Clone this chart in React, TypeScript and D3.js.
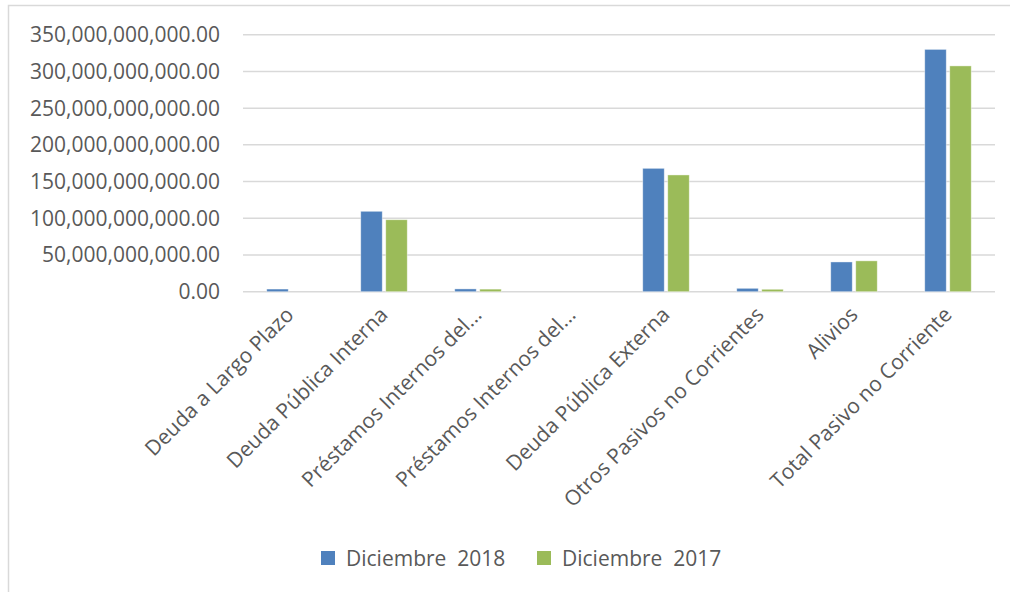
import * as d3 from "d3";
import { useEffect, useRef } from "react";

const categories = [
  "Deuda a Largo Plazo",
  "Deuda Pública Interna",
  "Préstamos Internos del...",
  "Préstamos Internos del...",
  "Deuda Pública Externa",
  "Otros Pasivos no Corrientes",
  "Alivios",
  "Total Pasivo no Corriente",
];
const seriesNames = ["Diciembre  2018", "Diciembre  2017"];
const dic2018 = [3.6e9, 109.5e9, 3.8e9, 0, 168e9, 4.6e9, 40.5e9, 330e9];
const dic2017 = [0, 98e9, 3.5e9, 0, 159e9, 3.3e9, 42e9, 307.5e9];
const yTicks = [0, 50e9, 100e9, 150e9, 200e9, 250e9, 300e9, 350e9];
const colors = ["#4F81BD", "#9BBB59"];

export default function App() {
  const ref = useRef(null);

  useEffect(() => {
    const svg = d3.select(ref.current);
    svg.selectAll("*").remove();

    const width = 1010;
    const height = 592;
    const font = "'Open Sans', sans-serif";
    const textColor = "#595959";

    svg.attr("width", width).attr("height", height);

    // chart frame (only left and top visible)
    svg.append("rect").attr("width", width).attr("height", height).attr("fill", "#fff");
    svg
      .append("path")
      .attr("d", `M8.5,${height} V5.5 H${width}`)
      .attr("fill", "none")
      .attr("stroke", "#D9D9D9")
      .attr("stroke-width", 1.5);

    const x = d3
      .scaleBand()
      .domain(categories.map((_, i) => String(i)))
      .range([243, 995]);
    const y = d3.scaleLinear().domain([0, 350e9]).range([291.7, 34.7]);
    const xSub = d3
      .scaleBand()
      .domain(seriesNames)
      .range([0, x.bandwidth()])
      .paddingInner(0.14)
      .paddingOuter(0.95);

    const fmt = d3.format(",.2f");

    // gridlines
    svg
      .append("g")
      .selectAll("line")
      .data(yTicks)
      .join("line")
      .attr("x1", 243)
      .attr("x2", 995)
      .attr("y1", (d) => y(d))
      .attr("y2", (d) => y(d))
      .attr("stroke", "#D9D9D9")
      .attr("stroke-width", 1.5);

    // y tick labels
    svg
      .append("g")
      .selectAll("text")
      .data(yTicks)
      .join("text")
      .attr("x", 220)
      .attr("y", (d) => y(d) + 7.5)
      .attr("text-anchor", "end")
      .attr("font-family", font)
      .attr("font-size", 21)
      .attr("fill", textColor)
      .text((d) => fmt(d));

    // bars
    const series = [dic2018, dic2017];
    series.forEach((vals, s) => {
      svg
        .append("g")
        .selectAll("rect")
        .data(vals)
        .join("rect")
        .attr("x", (_, i) => x(String(i)) + xSub(seriesNames[s]))
        .attr("width", xSub.bandwidth())
        .attr("y", (d) => y(d))
        .attr("height", (d) => y(0) - y(d))
        .attr("fill", colors[s])
        .attr("stroke", "#fff")
        .attr("stroke-opacity", 0.5)
        .attr("stroke-width", (d) => (d > 0 ? 0.8 : 0));
    });

    // category labels, rotated
    svg
      .append("g")
      .selectAll("text")
      .data(categories)
      .join("text")
      .attr("transform", (_, i) => `translate(${x(String(i)) + x.bandwidth() / 2 + 5},${316}) rotate(-45)`)
      .attr("text-anchor", "end")
      .attr("font-family", font)
      .attr("font-size", 21)
      .attr("fill", textColor)
      .text((d) => d);

    // legend
    const legendX = [321, 537];
    const lg = svg.append("g");
    seriesNames.forEach((name, s) => {
      lg.append("rect")
        .attr("x", legendX[s])
        .attr("y", 551)
        .attr("width", 14)
        .attr("height", 14)
        .attr("fill", colors[s]);
      lg.append("text")
        .attr("x", legendX[s] + 25)
        .attr("y", 565.5)
        .attr("font-family", font)
        .attr("font-size", 21)
        .attr("fill", textColor)
        .style("white-space", "pre")
        .text(name);
    });
  }, []);

  return (
    <svg
      ref={ref}
      style={{ position: "absolute", left: 0, top: 0, display: "block" }}
    />
  );
}
